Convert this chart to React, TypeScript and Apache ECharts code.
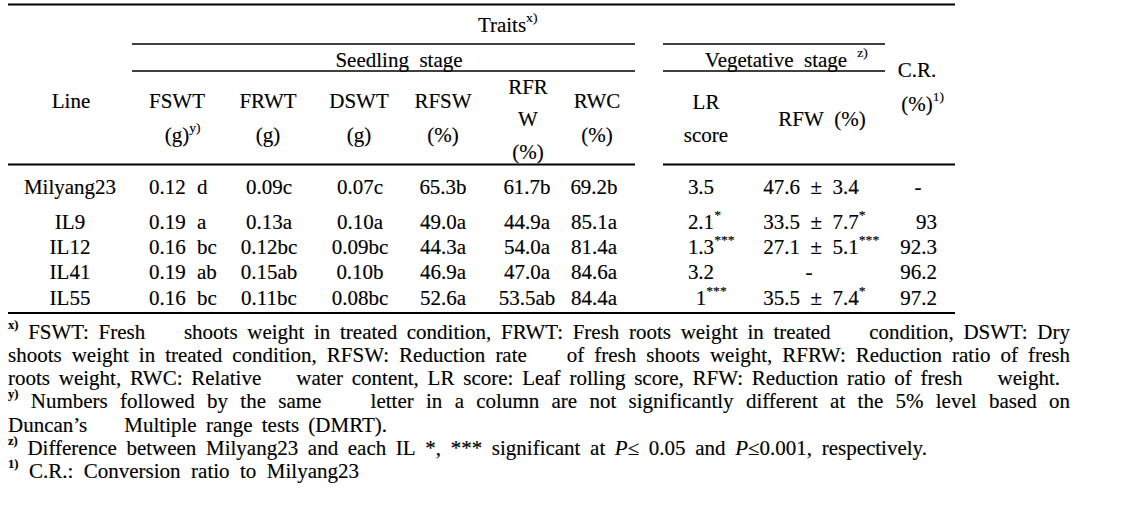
import React, { useEffect, useRef } from 'react';
import * as echarts from 'echarts';

// ---------------- Data ----------------
const lineNames = ['Milyang23', 'IL9', 'IL12', 'IL41', 'IL55'];
const fswt = [0.12, 0.19, 0.16, 0.19, 0.16];
const fswtGroup = ['d', 'a', 'bc', 'ab', 'bc'];
const frwt = [0.09, 0.13, 0.12, 0.15, 0.11];
const frwtGroup = ['c', 'a', 'bc', 'ab', 'bc'];
const dswt = [0.07, 0.1, 0.09, 0.1, 0.08];
const dswtGroup = ['c', 'a', 'bc', 'b', 'bc'];
const rfsw = [65.3, 49.0, 44.3, 46.9, 52.6];
const rfswGroup = ['b', 'a', 'a', 'a', 'a'];
const rfrw = [61.7, 44.9, 54.0, 47.0, 53.5];
const rfrwGroup = ['b', 'a', 'a', 'a', 'ab'];
const rwc = [69.2, 85.1, 81.4, 84.6, 84.4];
const rwcGroup = ['b', 'a', 'a', 'a', 'a'];
const lrScore = ['3.5', '2.1', '1.3', '3.2', '1'];
const lrSig = ['', '*', '***', '', '***'];
const rfwMean: (number | null)[] = [47.6, 33.5, 27.1, null, 35.5];
const rfwSd: (number | null)[] = [3.4, 7.7, 5.1, null, 7.4];
const rfwSig = ['', '*', '***', '', '*'];
const convRatio: (string | null)[] = [null, '93', '92.3', '96.2', '97.2'];

const titleTraits = 'Traits^x)^';
const titleSeedling = 'Seedling  stage';
const titleVegetative = 'Vegetative  stage';
const titleVegetativeNote = 'z)';
const lineHeader = 'Line';
const headerLabels: string[][] = [
  ['FSWT', '(g)^y)^'],
  ['FRWT', '(g)'],
  ['DSWT', '(g)'],
  ['RFSW', '(%)'],
  ['RFR', 'W', '(%)'],
  ['RWC', '(%)'],
  ['LR', 'score'],
  ['RFW  (%)'],
  ['C.R.', '(%)^1)^'],
];

const footnotes: string[] = [
  '^x)^ FSWT: Fresh    shoots weight in treated condition, FRWT: Fresh roots weight in treated    condition, DSWT: Dry',
  'shoots weight in treated condition, RFSW: Reduction rate    of fresh shoots weight, RFRW: Reduction ratio of fresh',
  'roots weight, RWC: Relative    water content, LR score: Leaf rolling score, RFW: Reduction ratio of fresh    weight.',
  '^y)^ Numbers followed by the same    letter in a column are not significantly different at the 5% level based on',
  'Duncan’s    Multiple range tests (DMRT).',
  '^z)^ Difference between Milyang23 and each IL *, *** significant at ~P~≤ 0.05 and ~P~≤0.001, respectively.',
  '^1)^ C.R.: Conversion ratio to Milyang23',
];

// ---------------- Layout ----------------
const FAMILY = '"Liberation Serif", "Times New Roman", serif';
const FS = 20;
const SUP_FS = 13;
const FOOT_SUP_FS = 12;
const SX = 1.05;
const headerX = [177, 268, 359, 443, 528, 597, 706, 822, 917];
const headerY: number[][] = [
  [101, 135], [101, 135], [101, 135], [101, 135], [87, 119, 152], [101, 135], [102, 135], [119], [70, 104],
];
const dataX = { fswtNum: 149, fswtGrp: 197, frwt: 269, dswt: 360, rfsw: 443, rfrw: 527, rwc: 594, lr: 701, rfw: 811, crRight: 937, crDash: 918 };
const rowY = [187, 222, 247, 272, 298];
const footY = [332, 355, 378, 401, 425, 448, 471];
const footEnd = [1070, 1070, 1060, 1070, 387, 927, 359];

type Piece = { t: string; sup: boolean; it: boolean };
function parseRun(s: string): Piece[] {
  const out: Piece[] = [];
  let cur = '';
  let sup = false;
  let it = false;
  for (const ch of s) {
    if (ch === '^' || ch === '~') {
      if (cur) out.push({ t: cur, sup, it });
      cur = '';
      if (ch === '^') sup = !sup;
      else it = !it;
    } else cur += ch;
  }
  if (cur) out.push({ t: cur, sup, it });
  return out;
}

function fontStr(size: number, it: boolean, bold: boolean) {
  return `${it ? 'italic' : 'normal'} ${bold ? 'bold' : 'normal'} ${size}px ${FAMILY}`;
}

let ctx: CanvasRenderingContext2D | null = null;
function measure(t: string, size: number, it: boolean, bold: boolean) {
  if (!ctx) ctx = document.createElement('canvas').getContext('2d');
  ctx!.font = fontStr(size, it, bold);
  return ctx!.measureText(t).width * SX;
}
function supSize(foot: boolean) {
  return foot ? FOOT_SUP_FS : SUP_FS;
}
function pieceW(p: Piece, foot: boolean) {
  return measure(p.t, p.sup ? supSize(foot) : FS, p.it, foot && p.sup);
}
function runW(s: string, foot = false) {
  return parseRun(s).reduce((a, p) => a + pieceW(p, foot), 0);
}

function textEl(x: number, y: number, t: string, size: number, it: boolean, bold: boolean) {
  return {
    type: 'text',
    x,
    y,
    scaleX: SX,
    silent: true,
    style: {
      text: t,
      font: fontStr(size, it, bold),
      fill: '#000',
      stroke: '#000',
      lineWidth: 0.15,
      align: 'left',
      textAlign: 'left',
      verticalAlign: 'middle',
      textVerticalAlign: 'middle',
    },
  };
}

function drawRun(els: any[], x: number, y: number, s: string, foot = false) {
  let cx = x;
  for (const p of parseRun(s)) {
    const size = p.sup ? supSize(foot) : FS;
    const bold = foot && p.sup;
    const parts = p.t.split(' ');
    const spW = measure(' ', size, p.it, bold);
    parts.forEach((w, i) => {
      if (i > 0) cx += spW;
      if (w) {
        els.push(textEl(cx, p.sup ? y - 7 : y, w, size, p.it, bold));
        cx += measure(w, size, p.it, bold);
      }
    });
  }
  return cx;
}
function drawCentered(els: any[], cx: number, y: number, s: string) {
  const base = s.split('^')[0];
  drawRun(els, cx - runW(base) / 2, y, s);
}
function drawJustified(els: any[], x0: number, x1: number, y: number, s: string) {
  const tokens = s.split(' ');
  const widths = tokens.map((t) => (t ? runW(t, true) : 0));
  const total = widths.reduce((a, b) => a + b, 0);
  const gap = tokens.length > 1 ? (x1 - x0 - total) / (tokens.length - 1) : 0;
  let cx = x0;
  tokens.forEach((t, i) => {
    if (t) drawRun(els, cx, y, t, true);
    cx += widths[i] + gap;
  });
}

function hline(x1: number, x2: number, y: number, w: number) {
  return { type: 'line', silent: true, shape: { x1, y1: y, x2, y2: y }, style: { stroke: '#000', lineWidth: w } };
}

function buildGraphic() {
  const els: any[] = [];
  // rules
  els.push(hline(8, 955, 4.5, 2));
  els.push(hline(132, 635, 44, 1.5));
  els.push(hline(663, 885, 44, 1.5));
  els.push(hline(132, 635, 71, 1.5));
  els.push(hline(663, 885, 71, 1.5));
  els.push(hline(8, 635, 164.5, 2));
  els.push(hline(663, 955, 164.5, 2));
  els.push(hline(8, 955, 313, 2));

  // header titles
  drawCentered(els, 502, 25, titleTraits);
  drawCentered(els, 399, 60, titleSeedling);
  const vEnd = drawRun(els, 776 - runW(titleVegetative) / 2, 60, titleVegetative);
  drawRun(els, vEnd + 10, 60, '^' + titleVegetativeNote + '^');
  drawCentered(els, 71, 101, lineHeader);
  headerLabels.forEach((lines, c) => {
    lines.forEach((l, k) => drawCentered(els, headerX[c], headerY[c][k], l));
  });

  // body
  lineNames.forEach((name, r) => {
    const y = rowY[r];
    drawCentered(els, 70, y, name);
    drawRun(els, dataX.fswtNum, y, fswt[r].toFixed(2));
    drawRun(els, dataX.fswtGrp, y, fswtGroup[r]);
    drawCentered(els, dataX.frwt, y, frwt[r].toFixed(2) + frwtGroup[r]);
    drawCentered(els, dataX.dswt, y, dswt[r].toFixed(2) + dswtGroup[r]);
    drawCentered(els, dataX.rfsw, y, rfsw[r].toFixed(1) + rfswGroup[r]);
    drawCentered(els, dataX.rfrw, y, rfrw[r].toFixed(1) + rfrwGroup[r]);
    drawCentered(els, dataX.rwc, y, rwc[r].toFixed(1) + rwcGroup[r]);
    drawCentered(els, dataX.lr, y, lrScore[r] + (lrSig[r] ? '^' + lrSig[r] + '^' : ''));
    const m = rfwMean[r];
    const sd = rfwSd[r];
    if (m == null || sd == null) drawCentered(els, dataX.rfw - 2, y, '-');
    else drawCentered(els, dataX.rfw, y, `${m.toFixed(1)}  ±  ${sd.toFixed(1)}` + (rfwSig[r] ? '^' + rfwSig[r] + '^' : ''));
    const cr = convRatio[r];
    if (cr == null) drawCentered(els, dataX.crDash, y, '-');
    else drawRun(els, dataX.crRight - runW(cr), y, cr);
  });

  // footnotes
  footnotes.forEach((f, i) => drawJustified(els, 8, footEnd[i], footY[i], f));
  return els;
}

export default function App() {
  const ref = useRef<HTMLDivElement>(null);
  useEffect(() => {
    if (!ref.current) return;
    const chart = echarts.init(ref.current, undefined, { renderer: 'svg' });
    chart.setOption({
      animation: false,
      backgroundColor: '#fff',
      graphic: { elements: buildGraphic() },
    });
    return () => chart.dispose();
  }, []);
  return (
    <div
      ref={ref}
      style={{ position: 'absolute', left: 0, top: 0, width: 1145, height: 508, background: '#fff' }}
    />
  );
}
